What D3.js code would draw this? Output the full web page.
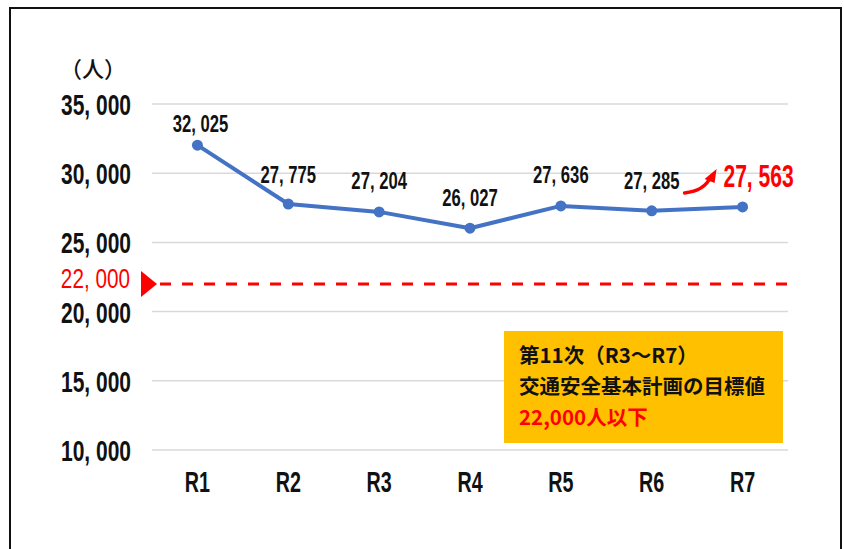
<!DOCTYPE html>
<html>
<head>
<meta charset="utf-8">
<script src="https://cdn.jsdelivr.net/npm/d3@7"></script>
<style>
  body { margin: 0; background: #fff; }
  svg { display: block; }
</style>
</head>
<body>
<div id="chart"></div>
<script>
// data
const years = ["R1", "R2", "R3", "R4", "R5", "R6", "R7"];
const casualties = [32025, 27775, 27204, 26027, 27636, 27285, 27563];
const yTicks = [10000, 15000, 20000, 25000, 30000, 35000];
const targetValue = 22000;
const noteLines = ["第11次（R3～R7）", "交通安全基本計画の目標値", "22,000人以下"];

// label offset above each point (layout only)
const labelDy = [13, 21, 23, 22, 23, 22, 20];

const W = 844, H = 549;
const numFont = "'Liberation Sans', Arial, sans-serif";
const jpFont = "'Noto Sans CJK JP', sans-serif";

const svg = d3.select("#chart")
    .append("svg")
    .attr("width", W)
    .attr("height", H);

// frame
svg.append("rect")
    .attr("x", 10).attr("y", 8)
    .attr("width", 831).attr("height", 560)
    .attr("fill", "#fff")
    .attr("stroke", "#111")
    .attr("stroke-width", 2);

const x = d3.scaleBand()
    .domain(years)
    .range([152, 788]);

const y = d3.scaleLinear()
    .domain([10000, 35000])
    .range([450, 104]);

const fmt = v => d3.format(",")(v).replace(",", ", ");

// condensed text helper
function condText(g, px, py, str, size, color, anchor, sx, weight) {
    return g.append("text")
        .attr("transform", `translate(${px},${py}) scale(${sx},1)`)
        .attr("text-anchor", anchor)
        .attr("font-family", numFont)
        .attr("font-weight", weight || 700)
        .attr("font-size", size)
        .attr("fill", color)
        .text(str);
}

// gridlines
svg.append("g")
    .selectAll("line")
    .data(yTicks)
    .join("line")
    .attr("x1", 152).attr("x2", 788)
    .attr("y1", d => y(d)).attr("y2", d => y(d))
    .attr("stroke", "#d9d9d9")
    .attr("stroke-width", 1.5);

// y tick labels
const yAxis = svg.append("g");
yTicks.forEach(t => {
    condText(yAxis, 131, y(t) + 11, fmt(t), 30, "#111", "end", 0.7);
});

// unit
svg.append("text")
    .attr("x", 93).attr("y", 77)
    .attr("text-anchor", "middle")
    .attr("font-family", jpFont)
    .attr("font-weight", 500)
    .attr("font-size", 22)
    .attr("fill", "#111")
    .text("（人）");

// x labels
const xAxis = svg.append("g");
years.forEach(c => {
    condText(xAxis, x(c) + x.bandwidth() / 2, 492, c, 29, "#111", "middle", 0.68);
});

// target dashed line
svg.append("line")
    .attr("x1", 160).attr("x2", 790)
    .attr("y1", y(targetValue)).attr("y2", y(targetValue))
    .attr("stroke", "#ff0000")
    .attr("stroke-width", 3)
    .attr("stroke-dasharray", "11,11");

svg.append("path")
    .attr("d", d3.line()([[141, y(targetValue) - 13], [141, y(targetValue) + 13], [157, y(targetValue)]]) + "Z")
    .attr("fill", "#ff0000");

condText(svg, 130, y(targetValue) + 4, fmt(targetValue), 28, "#ff0000", "end", 0.74, 400);

// note box
const box = svg.append("g").attr("transform", "translate(504,331)");
box.append("rect")
    .attr("width", 279).attr("height", 112)
    .attr("fill", "#ffc000");
noteLines.forEach((t, i) => {
    box.append("text")
        .attr("x", 15)
        .attr("y", 32 + i * 31)
        .attr("font-family", jpFont)
        .attr("font-weight", 700)
        .attr("font-size", 20.5)
        .attr("fill", i === 2 ? "#ff0000" : "#111")
        .text(t);
});

// line
const pts = years.map((c, i) => [x(c) + x.bandwidth() / 2, y(casualties[i])]);

svg.append("path")
    .datum(pts)
    .attr("fill", "none")
    .attr("stroke", "#4472c4")
    .attr("stroke-width", 4)
    .attr("stroke-linejoin", "round")
    .attr("d", d3.line());

svg.append("g")
    .selectAll("circle")
    .data(pts)
    .join("circle")
    .attr("cx", d => d[0])
    .attr("cy", d => d[1])
    .attr("r", 5.5)
    .attr("fill", "#4472c4");

// data labels
const labels = svg.append("g");
casualties.forEach((v, i) => {
    const last = i === casualties.length - 1;
    if (last) {
        condText(labels, pts[i][0] + 16, pts[i][1] - labelDy[i], fmt(v), 31, "#ff0000", "middle", 0.68, 700);
    } else {
        condText(labels, pts[i][0] + (i === 0 ? 3 : 0), pts[i][1] - labelDy[i], fmt(v), 24.5, "#111", "middle", 0.68);
    }
});

// red curved arrow toward last value
const ax = pts[6][0], ay = pts[6][1];
svg.append("path")
    .attr("d", `M${ax - 58},${ay - 14} Q${ax - 38},${ay - 16} ${ax - 32},${ay - 30}`)
    .attr("fill", "none")
    .attr("stroke", "#ff0000")
    .attr("stroke-width", 3.5)
    .attr("stroke-linecap", "round");
svg.append("path")
    .attr("d", d3.line()([[ax - 38, ay - 28], [ax - 26, ay - 38], [ax - 28, ay - 24]]) + "Z")
    .attr("fill", "#ff0000");
</script>
</body>
</html>
